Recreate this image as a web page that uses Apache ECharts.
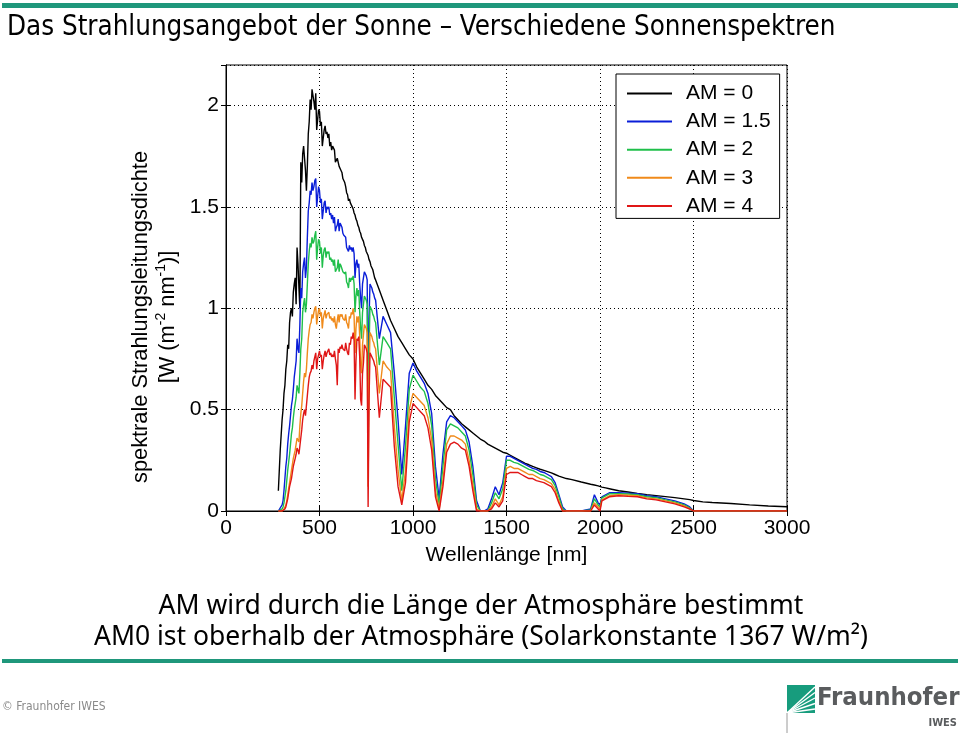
<!DOCTYPE html>
<html><head><meta charset="utf-8">
<script src="https://cdn.jsdelivr.net/npm/echarts@6/dist/echarts.min.js"></script>
<style>html,body{margin:0;padding:0;background:#fff}#c{width:960px;height:733px}</style>
</head><body><div id="c"></div>
<script>
// Wavelength grid [nm]
const wavelength = [
  280,290,300,310,320,330,340,350,360,370,
  380,390,400,410,420,430,440,450,460,470,
  480,490,500,510,520,530,540,550,560,570,
  580,590,600,610,620,630,640,650,660,670,
  680,690,700,710,720,730,740,750,760,770,
  780,790,800,
  820,840,860,880,900,920,940,960,980,1000,
  1020,1040,1060,1080,1100,1120,1140,1160,1180,1200,
  1220,1240,1260,1280,1300,1320,1340,1360,1380,1400,
  1420,1440,1460,1480,1500,1520,1540,1560,1580,1600,
  1620,1640,1660,1680,1700,1720,1740,1760,1780,1800,
  1820,1850,1900,1950,1970,1990,2000,2010,2030,2050,
  2100,2150,2200,2250,2300,2350,2400,2450,2480,2500,
  2550,2600,2700,2800,2900,3000
];
// spectral irradiance [W m^-2 nm^-1]
const am0 = [
  0.10,0.30,0.45,0.58,0.70,0.82,0.93,1.00,1.08,1.15,
  1.30,1.10,1.72,1.76,1.74,1.58,1.86,2.03,2.08,2.02,
  2.06,1.93,1.97,1.92,1.84,1.90,1.87,1.86,1.82,1.80,
  1.78,1.72,1.74,1.70,1.67,1.63,1.60,1.56,1.54,1.51,
  1.49,1.46,1.43,1.40,1.37,1.34,1.31,1.28,1.26,1.23,
  1.20,1.17,1.14,
  1.09,1.04,0.99,0.94,0.90,0.86,0.83,0.80,0.77,0.75,
  0.71,0.68,0.65,0.62,0.60,0.57,0.55,0.53,0.51,0.50,
  0.47,0.45,0.43,0.415,0.40,0.385,0.37,0.355,0.345,0.33,
  0.32,0.31,0.30,0.29,0.285,0.275,0.265,0.255,0.245,0.235,
  0.228,0.22,0.213,0.206,0.20,0.194,0.188,0.18,0.172,0.166,
  0.16,0.155,0.143,0.132,0.128,0.124,0.12,0.118,0.114,0.11,
  0.10,0.094,0.087,0.081,0.076,0.071,0.066,0.06,0.056,0.052,
  0.045,0.042,0.037,0.03,0.025,0.021
];
const am15 = [
  0,0,0.03,0.10,0.22,0.33,0.42,0.52,0.60,0.70,
  0.85,0.78,1.10,1.18,1.25,1.20,1.48,1.58,1.62,1.60,
  1.64,1.55,1.58,1.54,1.48,1.53,1.50,1.50,1.47,1.46,
  1.45,1.40,1.44,1.42,1.40,1.36,1.35,1.30,1.31,1.30,
  1.30,1.15,1.24,1.22,1.05,1.12,1.18,1.16,0.50,1.12,
  1.10,1.07,1.04,
  0.85,0.96,0.92,0.88,0.68,0.45,0.18,0.42,0.68,0.73,
  0.69,0.66,0.63,0.58,0.48,0.22,0.06,0.28,0.44,0.47,
  0.46,0.44,0.42,0.40,0.34,0.22,0.05,0,0,0.01,
  0.06,0.12,0.08,0.14,0.27,0.27,0.26,0.25,0.24,0.23,
  0.22,0.21,0.205,0.195,0.19,0.18,0.17,0.14,0.08,0.02,
  0,0,0,0.01,0.08,0.04,0.03,0.07,0.08,0.09,
  0.09,0.088,0.085,0.075,0.07,0.06,0.05,0.035,0.02,0,
  0,0,0,0,0,0
];
const am2 = [
  0,0,0.01,0.04,0.10,0.20,0.28,0.38,0.46,0.53,
  0.62,0.58,0.80,0.98,1.05,1.02,1.22,1.32,1.35,1.33,
  1.38,1.30,1.33,1.30,1.26,1.30,1.28,1.28,1.25,1.24,
  1.24,1.18,1.24,1.22,1.21,1.18,1.18,1.12,1.15,1.15,
  1.16,0.98,1.10,1.09,0.90,0.98,1.06,1.04,0.30,1.01,
  0.99,0.96,0.93,
  0.72,0.86,0.83,0.80,0.56,0.33,0.10,0.32,0.60,0.67,
  0.64,0.61,0.59,0.53,0.42,0.16,0.03,0.22,0.40,0.43,
  0.42,0.41,0.39,0.37,0.30,0.18,0.03,0,0,0,
  0.04,0.09,0.06,0.11,0.25,0.25,0.24,0.235,0.225,0.215,
  0.205,0.20,0.19,0.18,0.175,0.165,0.155,0.125,0.07,0.01,
  0,0,0,0.005,0.06,0.03,0.02,0.065,0.075,0.085,
  0.085,0.084,0.08,0.07,0.066,0.055,0.045,0.03,0.015,0,
  0,0,0,0,0,0
];
const am3 = [
  0,0,0,0.01,0.03,0.08,0.14,0.20,0.26,0.30,
  0.36,0.34,0.48,0.58,0.68,0.70,0.85,0.92,0.97,0.98,
  1.01,0.96,1.00,0.98,0.95,0.99,0.97,0.98,0.96,0.95,
  0.96,0.90,0.97,0.97,0.97,0.95,0.97,0.92,0.96,0.98,
  1.00,0.78,0.96,0.96,0.72,0.82,0.92,0.90,0.12,0.88,
  0.86,0.83,0.80,
  0.58,0.74,0.71,0.69,0.42,0.20,0.05,0.20,0.50,0.58,
  0.56,0.54,0.52,0.46,0.35,0.10,0.01,0.15,0.33,0.37,
  0.37,0.36,0.35,0.33,0.25,0.13,0.01,0,0,0,
  0.02,0.06,0.03,0.07,0.21,0.22,0.21,0.21,0.20,0.19,
  0.18,0.18,0.17,0.16,0.155,0.145,0.135,0.105,0.05,0,
  0,0,0,0,0.04,0.02,0.01,0.055,0.065,0.075,
  0.08,0.078,0.075,0.065,0.06,0.05,0.04,0.025,0.01,0,
  0,0,0,0,0,0
];
const am4 = [
  0,0,0,0,0.02,0.06,0.12,0.16,0.22,0.26,
  0.31,0.28,0.36,0.45,0.50,0.52,0.62,0.68,0.72,0.74,
  0.78,0.75,0.79,0.77,0.74,0.79,0.78,0.80,0.78,0.77,
  0.79,0.72,0.80,0.81,0.82,0.80,0.83,0.78,0.83,0.86,
  0.88,0.55,0.85,0.86,0.55,0.68,0.82,0.80,0.02,0.78,
  0.77,0.74,0.71,
  0.46,0.65,0.63,0.61,0.32,0.12,0.03,0.14,0.44,0.53,
  0.51,0.49,0.47,0.41,0.30,0.07,0,0.12,0.29,0.33,
  0.34,0.33,0.31,0.30,0.22,0.10,0,0,0,0,
  0.01,0.04,0.02,0.05,0.18,0.19,0.19,0.19,0.18,0.17,
  0.16,0.16,0.15,0.145,0.14,0.13,0.12,0.09,0.04,0,
  0,0,0,0,0.03,0.01,0,0.05,0.06,0.07,
  0.075,0.072,0.07,0.06,0.055,0.045,0.035,0.02,0.01,0,
  0,0,0,0,0,0
];
// extra in-between samples in the UV/visible, where the spectra are densely jagged
const wavelengthFine = [
  305,315,325,335,345,355,365,375,385,395,
  405,415,425,435,445,455,465,475,485,495,
  505,515,525,535,545,555,565,575,585,595,
  605,615,625,635,645,655,665,675,685,695,
  705,715,725,735,745,755,765,775,785,795
];
const am0Fine = [
  0.50,0.62,0.74,0.80,0.98,0.96,1.12,1.02,1.22,1.00,
  1.62,1.80,1.68,1.70,1.92,1.98,2.05,1.98,1.88,1.98,
  1.90,1.80,1.88,1.86,1.84,1.80,1.78,1.79,1.72,1.74,
  1.70,1.68,1.64,1.62,1.57,1.53,1.52,1.50,1.47,1.44,
  1.41,1.38,1.35,1.33,1.30,1.27,1.24,1.21,1.19,1.15
];
const am15Fine = [
  0.05,0.16,0.26,0.38,0.47,0.55,0.66,0.74,0.80,0.92,
  1.05,1.22,1.15,1.35,1.52,1.56,1.58,1.63,1.50,1.60,
  1.52,1.44,1.52,1.47,1.49,1.46,1.44,1.42,1.38,1.41,
  1.38,1.41,1.37,1.36,1.30,1.28,1.29,1.28,1.27,1.22,
  1.20,1.12,1.00,1.15,1.17,1.14,0.95,1.11,1.08,1.05
];
const am2Fine = [
  0.02,0.07,0.15,0.24,0.33,0.41,0.50,0.56,0.60,0.68,
  0.85,1.02,0.98,1.12,1.28,1.30,1.32,1.36,1.24,1.34,
  1.27,1.20,1.29,1.25,1.27,1.24,1.23,1.21,1.18,1.20,
  1.18,1.21,1.18,1.17,1.13,1.10,1.13,1.14,1.12,1.06,
  1.06,0.98,0.85,1.02,1.05,1.02,0.80,1.00,0.97,0.94
];
const am3Fine = [
  0,0.02,0.05,0.11,0.17,0.23,0.28,0.33,0.35,0.42,
  0.52,0.64,0.66,0.78,0.89,0.93,0.95,1.00,0.92,0.99,
  0.96,0.90,0.97,0.95,0.97,0.95,0.94,0.93,0.92,0.94,
  0.93,0.96,0.95,0.94,0.93,0.90,0.95,0.97,0.96,0.90,
  0.93,0.86,0.68,0.87,0.91,0.88,0.66,0.87,0.84,0.81
];
const am4Fine = [
  0,0.01,0.04,0.09,0.14,0.19,0.24,0.28,0.30,0.32,
  0.40,0.48,0.47,0.57,0.66,0.69,0.70,0.76,0.70,0.77,
  0.76,0.70,0.77,0.76,0.79,0.77,0.76,0.76,0.75,0.62,
  0.78,0.80,0.80,0.79,0.80,0.77,0.82,0.85,0.84,0.74,
  0.84,0.76,0.52,0.73,0.82,0.78,0.55,0.77,0.75,0.72
];
const seriesNames = ['AM = 0','AM = 1.5','AM = 2','AM = 3','AM = 4'];
const seriesValues = [am0, am15, am2, am3, am4];
const seriesFine = [am0Fine, am15Fine, am2Fine, am3Fine, am4Fine];
const seriesColors = ['#000000','#0a1ed8','#1fbf4a','#f08a1a','#e01616'];
const xMin = 0, xMax = 3000, xStep = 500;
const yMin = 0, yMax = 2.2, yStep = 0.5;
const titleText = 'Das Strahlungsangebot der Sonne – Verschiedene Sonnenspektren';
const noteLine1 = 'AM wird durch die Länge der Atmosphäre bestimmt';
const noteLine2 = 'AM0 ist oberhalb der Atmosphäre (Solarkonstante 1367 W/m²)';
const footerText = '© Fraunhofer IWES';

const AXF = '"Liberation Sans",Arial,sans-serif';
const COND = '"DejaVu Sans Condensed","Liberation Sans",sans-serif';
const TEAL = '#1f977b';
const dotted = { color: '#000', width: 1, type: [1, 3] };

const chart = echarts.init(document.getElementById('c'), null, { renderer: 'canvas' });

function mergedPoints(k) {
  return wavelength.map((w, i) => [w, seriesValues[k][i]])
    .concat(wavelengthFine.map((w, i) => [w, seriesFine[k][i]]))
    .sort((a, b) => a[0] - b[0]);
}

const series = seriesNames.map((name, k) => ({
  name, type: 'line', xAxisIndex: 0, yAxisIndex: 0,
  showSymbol: false, symbol: 'none', animation: false,
  lineStyle: { width: 1.4, color: seriesColors[k] },
  itemStyle: { color: seriesColors[k] },
  data: mergedPoints(k)
}));

// Fraunhofer logo stripes (decorative)
const stripes = [];
for (let i = 0; i < 5; i++) {
  stripes.push({ type: 'line', shape: { x1: 787, y1: 713, x2: 815, y2: 687 + i * 5.5 },
    style: { stroke: '#fff', lineWidth: 1.4 } });
}

chart.setOption({
  animation: false,
  grid: { left: 226, top: 65, width: 561, height: 446, show: true, borderColor: '#000', borderWidth: 1, backgroundColor: '#fff' },
  legend: {
    orient: 'vertical', left: 616, top: 74,
    itemWidth: 45, itemHeight: 2, itemGap: 7.1, icon: 'rect',
    padding: [9, 9, 2, 11],
    backgroundColor: '#fff', borderColor: '#000', borderWidth: 1,
    textStyle: { fontFamily: AXF, fontSize: 21, color: '#000', padding: [0, 0, 0, 9] },
    data: seriesNames
  },
  xAxis: [{
    type: 'value', position: 'bottom', min: xMin, max: xMax, interval: xStep,
    axisLine: { show: true, onZero: false, lineStyle: { color: '#000' } },
    axisTick: { show: true, inside: true, length: 5, lineStyle: { color: '#000' } },
    axisLabel: { fontFamily: AXF, fontSize: 21, color: '#000', margin: 7, formatter: v => String(v) },
    splitLine: { show: true, lineStyle: dotted },
    name: 'Wellenlänge [nm]', nameLocation: 'middle', nameGap: 34,
    nameTextStyle: { fontFamily: AXF, fontSize: 21, color: '#000' }
  }, {
    type: 'value', position: 'top', min: xMin, max: xMax, interval: xStep,
    axisLine: { show: true, lineStyle: { color: '#000' } },
    axisTick: { show: true, inside: true, length: 5, lineStyle: { color: '#000' } },
    axisLabel: { show: false }, splitLine: { show: false }
  }],
  yAxis: [{
    type: 'value', position: 'left', min: yMin, max: yMax, interval: yStep,
    axisLine: { show: true, onZero: false, lineStyle: { color: '#000' } },
    axisTick: { show: true, inside: true, length: 5, lineStyle: { color: '#000' } },
    axisLabel: { fontFamily: AXF, fontSize: 21, color: '#000', margin: 7, showMaxLabel: false, formatter: v => String(v) },
    splitLine: { show: true, lineStyle: dotted },
    name: '{a|spektrale Strahlungsleitungsdichte}\n{a|[W (m}{s|-2}{a| nm}{s|-1}{a|)]}',
    nameLocation: 'middle', nameRotate: 90, nameGap: 40,
    nameTextStyle: {
      padding: [0, 58, 0, 0],
      rich: {
        a: { fontFamily: AXF, fontSize: 21.8, color: '#000', lineHeight: 27 },
        s: { fontFamily: AXF, fontSize: 14, color: '#000', lineHeight: 14, verticalAlign: 'top' }
      }
    }
  }, {
    type: 'value', position: 'right', min: yMin, max: yMax, interval: yStep,
    axisLine: { show: true, lineStyle: { color: '#000' } },
    axisTick: { show: true, inside: true, length: 5, lineStyle: { color: '#000' } },
    axisLabel: { show: false }, splitLine: { show: false }
  }],
  series,
  graphic: [
    { type: 'rect', shape: { x: 2, y: 3, width: 956, height: 5 }, style: { fill: TEAL } },
    { type: 'text', x: 7, y: 28, style: { text: titleText, fontFamily: COND, fontSize: 27.5, fill: '#000', verticalAlign: 'middle' } },
    { type: 'text', x: 481, y: 606, style: { text: noteLine1, fontFamily: '"Noto Sans",sans-serif', fontSize: 26.5, fill: '#000', align: 'center', verticalAlign: 'middle' } },
    { type: 'text', x: 481, y: 637, style: { text: noteLine2, fontFamily: '"Noto Sans",sans-serif', fontSize: 26.5, fill: '#000', align: 'center', verticalAlign: 'middle' } },
    { type: 'rect', shape: { x: 2, y: 659, width: 956, height: 4 }, style: { fill: TEAL } },
    { type: 'text', x: 2, y: 707, style: { text: footerText, fontFamily: COND, fontSize: 12, fill: '#8a8a8a', verticalAlign: 'middle' } },
    { type: 'rect', shape: { x: 787, y: 685, width: 28, height: 28 }, style: { fill: '#179c7d' } },
    ...stripes,
    { type: 'line', shape: { x1: 787, y1: 713, x2: 787, y2: 733 }, style: { stroke: '#9a9a9a', lineWidth: 1 } },
    { type: 'text', x: 817, y: 698, style: { text: 'Fraunhofer', fontFamily: COND, fontSize: 25.5, fontWeight: 'bold', fill: '#5a5c5e', verticalAlign: 'middle' } },
    { type: 'text', x: 957, y: 723, style: { text: 'IWES', fontFamily: COND, fontSize: 11, fontWeight: 'bold', fill: '#5a5c5e', align: 'right', verticalAlign: 'middle' } }
  ]
});
</script></body></html>
